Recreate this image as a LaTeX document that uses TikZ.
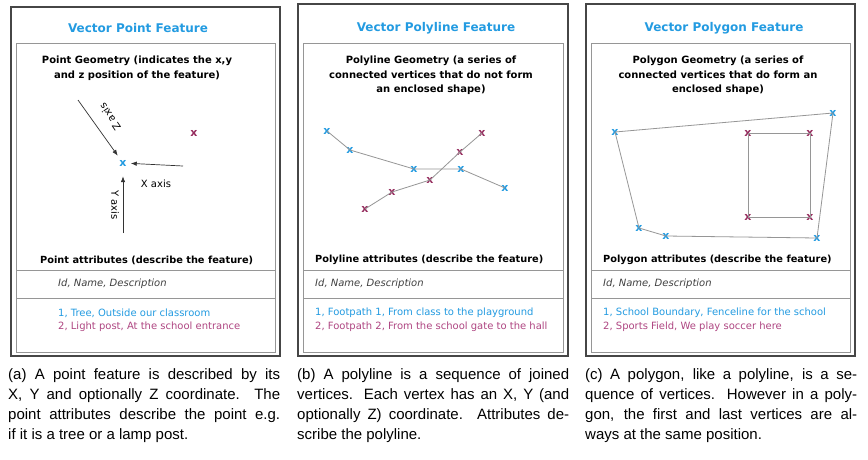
\documentclass[tikz,border=0pt]{standalone}
\usepackage{fontspec}
\setmainfont{Liberation Sans}
\newfontfamily\boxfont{DejaVu Sans}
\usetikzlibrary{arrows.meta}
\definecolor{featblue}{RGB}{35,155,225}
\definecolor{featred}{RGB}{150,45,95}
\definecolor{attrred}{RGB}{175,70,130}
\definecolor{linegray}{RGB}{150,150,150}
\definecolor{framegray}{RGB}{70,70,70}
\tikzset{
  outerbox/.style={draw=framegray, line width=1.6pt},
  innerbox/.style={draw=linegray, line width=0.9pt},
  panelhead/.style={font=\boxfont\bfseries\fontsize{12}{14}\selectfont, text=featblue},
  geomhead/.style={font=\boxfont\bfseries\fontsize{10}{14.5}\selectfont, align=center},
  attrhead/.style={font=\boxfont\bfseries\fontsize{9.8}{12}\selectfont, anchor=west, inner sep=0pt},
  attrcols/.style={font=\boxfont\itshape\fontsize{10}{12}\selectfont, text=black!75, anchor=west, inner sep=0pt},
  attrrow/.style={font=\boxfont\fontsize{10}{12}\selectfont, anchor=west, inner sep=0pt},
  axislabel/.style={font=\boxfont\fontsize{10}{12}\selectfont, inner sep=0pt},
  vtx/.style={font=\boxfont\bfseries\fontsize{11}{10}\selectfont, inner sep=0pt},
  bluevtx/.style={vtx, text=featblue},
  redvtx/.style={vtx, text=featred},
  edge/.style={draw=linegray, line width=0.8pt},
  axisarrow/.style={draw=black!80, line width=0.7pt, -{Latex[length=6pt,width=4.5pt]}},
  caption/.style={font=\fontsize{15}{20}\selectfont, text width=272pt, align=justify, anchor=north west, inner sep=0pt},
}

\begin{document}
\begin{tikzpicture}[x=1pt,y=-1pt]
  \useasboundingbox[fill=white] (0,0) rectangle (868,459);
  %%%%% FRAMES %%%%%
  \foreach \xl/\xr/\yt in {11/280/7, 298/568/4, 586/855/4} {
    \draw[outerbox] (\xl,\yt) rectangle (\xr,356);
    \draw[innerbox] (\xl+5,43) rectangle (\xr-5,352);
    \draw[innerbox] (\xl+5,270) -- (\xr-5,270);
    \draw[innerbox] (\xl+5,298) -- (\xr-5,298);
  }

  %%%%% (a) POINT %%%%%
  \node[panelhead] (ttla) at (138,28) {Vector Point Feature};
  \node[geomhead] (geoma) at (137,68) {Point Geometry (indicates the x,y\\and z position of the feature)};

  \node[bluevtx] (pa) at (123,163) {x};
  \node[redvtx] (pb) at (194,133) {x};
  \coordinate (zstart) at (78,100);
  \coordinate (xstart) at (183,166);
  \coordinate (ystart) at (123,233);
  \draw[axisarrow, shorten >=5pt] (zstart) -- (pa);
  \draw[axisarrow, shorten >=4pt] (xstart) -- (pa);
  \draw[axisarrow, shorten >=10pt] (ystart) -- (pa);
  \node[axislabel, rotate=124] (zlab) at (110,117) {Z axis};
  \node[axislabel] (xlab) at (156,184) {X axis};
  \node[axislabel, rotate=-90] (ylab) at (115,205) {Y axis};

  \node[attrhead] (attra) at (40,260) {Point attributes (describe the feature)};
  \node[attrcols] (colsa) at (58,284) {Id, Name, Description};
  \node[attrrow, text=featblue] (rowa1) at (58,313) {1, Tree, Outside our classroom};
  \node[attrrow, text=attrred] (rowa2) at (58,327) {2, Light post, At the school entrance};

  %%%%% (b) POLYLINE %%%%%
  \node[panelhead] (ttlb) at (436,28) {Vector Polyline Feature};
  \node[geomhead] (geomb) at (431,75.5) {Polyline Geometry (a series of\\connected vertices that do not form\\an enclosed shape)};

  \node[bluevtx] (b1) at (327,131) {x};
  \node[bluevtx] (b2) at (350,150) {x};
  \node[bluevtx] (b3) at (414,169) {x};
  \node[bluevtx] (b4) at (461,169) {x};
  \node[bluevtx] (b5) at (505,188) {x};
  \node[redvtx] (r1) at (482,133) {x};
  \node[redvtx] (r2) at (460,152) {x};
  \node[redvtx] (r3) at (430,180) {x};
  \node[redvtx] (r4) at (392,192) {x};
  \node[redvtx] (r5) at (365,209) {x};
  \draw[edge] (b1.center) -- (b2.center) -- (b3.center) -- (b4.center) -- (b5.center);
  \draw[edge] (r1.center) -- (r2.center) -- (r3.center) -- (r4.center) -- (r5.center);

  \node[attrhead] (attrb) at (315,260) {Polyline attributes (describe the feature)};
  \node[attrcols] (colsb) at (315,284) {Id, Name, Description};
  \node[attrrow, text=featblue] (rowb1) at (315,313) {1, Footpath 1, From class to the playground};
  \node[attrrow, text=attrred] (rowb2) at (315,327) {2, Footpath 2, From the school gate to the hall};

  %%%%% (c) POLYGON %%%%%
  \node[panelhead] (ttlc) at (724,28) {Vector Polygon Feature};
  \node[geomhead] (geomc) at (718,75.5) {Polygon Geometry (a series of\\connected vertices that do form an\\enclosed shape)};

  \node[bluevtx] (c1) at (615,132) {x};
  \node[bluevtx] (c2) at (833,113) {x};
  \node[bluevtx] (c3) at (817,238) {x};
  \node[bluevtx] (c4) at (666,236) {x};
  \node[bluevtx] (c5) at (639,228) {x};
  \node[redvtx] (s1) at (748,133) {x};
  \node[redvtx] (s2) at (810,133) {x};
  \node[redvtx] (s3) at (810,217) {x};
  \node[redvtx] (s4) at (748,217) {x};
  \draw[edge] (c1.center) -- (c2.center) -- (c3.center) -- (c4.center) -- (c5.center) -- (c1.center);
  \draw[edge] (s1.center) -- (s2.center) -- (s3.center) -- (s4.center) -- (s1.center);

  \node[attrhead] (attrc) at (603,260) {Polygon attributes (describe the feature)};
  \node[attrcols] (colsc) at (603,284) {Id, Name, Description};
  \node[attrrow, text=featblue] (rowc1) at (603,313) {1, School Boundary, Fenceline for the school};
  \node[attrrow, text=attrred] (rowc2) at (603,327) {2, Sports Field, We play soccer here};

  %%%%% CAPTIONS %%%%%
  \node[caption] (capa) at (8,368) {(a) A point feature is described by its\linebreak X, Y and optionally Z coordinate. The\linebreak point attributes describe the point e.g.\linebreak if it is a tree or a lamp post.};
  \node[caption] (capb) at (297,368) {(b) A polyline is a sequence of joined\linebreak vertices. Each vertex has an X, Y (and\linebreak optionally Z) coordinate. Attributes de-\linebreak scribe the polyline.};
  \node[caption] (capc) at (585,368) {(c) A polygon, like a polyline, is a se-\linebreak quence of vertices. However in a poly-\linebreak gon, the first and last vertices are al-\linebreak ways at the same position.};
\end{tikzpicture}
\end{document}
